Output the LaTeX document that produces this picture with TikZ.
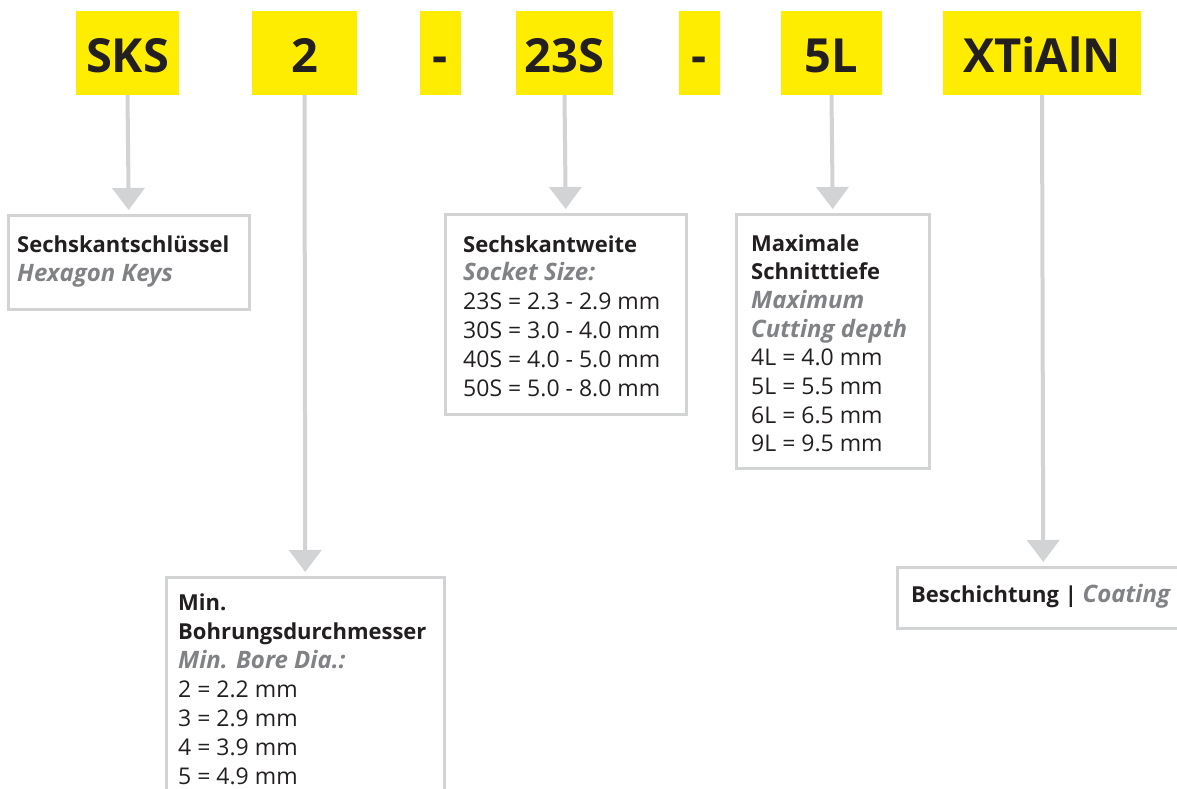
\documentclass[tikz,border=0pt]{standalone}
\usepackage{fontspec}
\setmainfont{Open Sans}
\usetikzlibrary{arrows.meta}
\definecolor{ybox}{HTML}{FFED00}
\definecolor{lgray}{HTML}{D1D3D4}
\definecolor{ink}{HTML}{231F20}
\definecolor{igray}{HTML}{808285}
\newcommand\hd{\fontsize{22}{29}\selectfont\bfseries\color{ink}}
\newcommand\en{\fontsize{24}{29}\selectfont\bfseries\itshape\color{igray}}
\begin{document}
\begin{tikzpicture}[x=1pt,y=-1pt,
  font=\fontsize{23}{29}\selectfont, text=ink,
  code/.style={fill=ybox, inner sep=0pt, minimum height=84pt, text height=39pt, text depth=0pt,
    font=\fontsize{47}{47}\selectfont\bfseries, text=ink},
  infobox/.style={draw=lgray, line width=2.5pt, inner sep=0pt, anchor=north west},
  conn/.style={draw=lgray, line width=4pt, -{Triangle[width=32pt,length=22pt]}, shorten >=4pt},
  line/.style={anchor=base west, inner sep=0pt}]
\useasboundingbox (0,0) rectangle (1177,789);
\clip (0,0) rectangle (1177,789);
% code boxes
\node[code, minimum width=103pt] (sks) at (127.5,53) {SKS};
\node[code, minimum width=105pt] (n2) at (304.5,53) {2};
\node[code, minimum width=41pt] (d1) at (440.5,53) {-};
\node[code, minimum width=97pt] (s23) at (564.5,53) {23S};
\node[code, minimum width=41pt] (d2) at (699.5,53) {-};
\node[code, minimum width=101pt] (l5) at (831.5,53) {5L};
\node[code, minimum width=198pt] (coat) at (1042,53) {XTiAlN};
% info boxes
\node[infobox, minimum width=241pt, minimum height=94pt] (b1) at (7,214) {};
\node[infobox, minimum width=278pt, minimum height=300pt] (b2) at (165,576) {};
\node[infobox, minimum width=241pt, minimum height=200pt] (b3) at (444,213) {};
\node[infobox, minimum width=193pt, minimum height=254pt] (b4) at (735,213) {};
\node[infobox, minimum width=292pt, minimum height=61pt] (b5) at (896,566) {};
% connectors
\draw[conn] (sks.south) -- (b1.north);
\draw[conn] (n2.south) -- (b2.north);
\draw[conn] (s23.south) -- (b3.north);
\draw[conn] (l5.south) -- (b4.north);
\draw[conn] (coat.south) -- (b5.north);
% texts
\foreach [count=\i] \t in {{\hd Sechskantschlüssel},{\en Hexagon Keys}}
  \node[line] (t1-\i) at ({17},{252+29*(\i-1)}) {\t};
\foreach [count=\i] \t in {{\hd Min.},{\hd Bohrungsdurchmesser},{\en Min. Bore Dia.:},
    2 = 2.2 mm,3 = 2.9 mm,4 = 3.9 mm,5 = 4.9 mm}
  \node[line] (t2-\i) at ({178},{610+29*(\i-1)}) {\t};
\foreach [count=\i] \t in {{\hd Sechskantweite},{\en Socket Size:},23S = 2.3 - 2.9 mm,
    30S = 3.0 - 4.0 mm,40S = 4.0 - 5.0 mm,50S = 5.0 - 8.0 mm}
  \node[line] (t3-\i) at ({463},{252+28.8*(\i-1)}) {\t};
\foreach [count=\i] \t in {{\hd Maximale},{\hd Schnitttiefe},{\en Maximum},{\en Cutting depth},
    4L = 4.0 mm,5L = 5.5 mm,6L = 6.5 mm,9L = 9.5 mm}
  \node[line] (t4-\i) at ({751},{251+28.7*(\i-1)}) {\t};
\node[line] (t5) at (911,602) {\hd Beschichtung | {\en Coating}};
\end{tikzpicture}
\end{document}
